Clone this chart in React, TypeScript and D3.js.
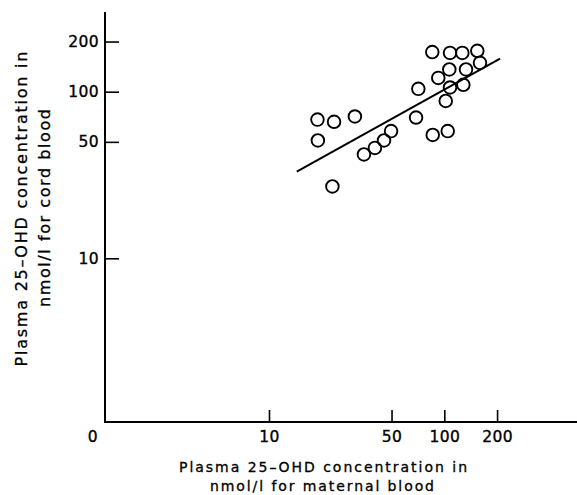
import React, { useEffect, useRef } from "react";
import * as d3 from "d3";

// values (nmol/l)
const maternal = [85.4, 107.8, 126.7, 154.3, 159.8, 106.8, 133.0, 92.4, 107.8, 128.4, 71.1, 101.9, 69.0, 85.9, 104.6, 18.9, 23.5, 30.9, 19.0, 34.8, 40.2, 45.3, 49.7, 23.0];
const cord = [173, 171, 171, 176, 149, 136, 136, 121, 106, 110, 104, 88, 70, 55, 58, 68, 66, 71, 51, 42, 46, 51, 58, 27];

const fitX = [14.4, 208];
const fitY = [33.1, 158];

const xTicks = [10, 50, 100, 200];
const yTicks = [10, 50, 100, 200];
const originLabel = "0";

const xTitle = ["Plasma 25\u2013OHD concentration in", "nmol/l for maternal blood"];
const yTitle = ["Plasma 25\u2013OHD concentration in", "nmol/l for cord blood"];

const W = 577;
const H = 495;
const FONT = "'DejaVu Sans', sans-serif";

const App = () => {
  const ref = useRef<SVGSVGElement | null>(null);

  useEffect(() => {
    const svg = d3.select(ref.current);
    svg.selectAll("*").remove();

    const axisX0 = 104;
    const axisY0 = 422;
    const axisTop = 12;

    const x = d3.scaleLog().domain([10, 100]).range([269, 444.3]);
    const y = d3.scaleLog().domain([10, 100]).range([258.3, 91.7]);

    // axes lines
    svg.append("line")
      .attr("x1", axisX0).attr("x2", W)
      .attr("y1", axisY0).attr("y2", axisY0)
      .attr("stroke", "#000").attr("stroke-width", 2);
    svg.append("line")
      .attr("x1", axisX0 + 1).attr("x2", axisX0 + 1)
      .attr("y1", axisTop).attr("y2", axisY0 + 1)
      .attr("stroke", "#000").attr("stroke-width", 2);

    const xAxis = svg.append("g")
      .attr("transform", `translate(0,${axisY0})`)
      .call(d3.axisBottom(x).tickValues(xTicks).tickFormat(d3.format("d")).tickSize(-12).tickPadding(9));
    xAxis.select(".domain").remove();

    const yAxis = svg.append("g")
      .attr("transform", `translate(${axisX0 + 1},0)`)
      .call(d3.axisLeft(y).tickValues(yTicks).tickFormat(d3.format("d")).tickSize(-14).tickPadding(6));
    yAxis.select(".domain").remove();

    svg.selectAll(".tick line").attr("stroke", "#000").attr("stroke-width", 1.6);
    svg.selectAll(".tick text")
      .attr("fill", "#000")
      .attr("stroke", "#000")
      .attr("stroke-width", 0.35)
      .attr("font-family", FONT)
      .attr("font-size", 15.5)
      .attr("letter-spacing", 0.4);
    xAxis.attr("font-family", FONT);
    yAxis.attr("font-family", FONT);

    svg.append("text")
      .attr("x", 92.7).attr("y", axisY0 + 9).attr("dy", "0.71em")
      .attr("text-anchor", "middle")
      .attr("font-family", FONT).attr("font-size", 15.5)
      .attr("stroke", "#000").attr("stroke-width", 0.35)
      .text(originLabel);

    // regression line
    const line = d3.line<number>()
      .x((_, i) => x(fitX[i]))
      .y((_, i) => y(fitY[i]));
    svg.append("path")
      .attr("d", line(fitX))
      .attr("fill", "none")
      .attr("stroke", "#000")
      .attr("stroke-width", 2);

    // points
    svg.append("g")
      .selectAll("circle")
      .data(maternal)
      .enter()
      .append("circle")
      .attr("cx", (d) => x(d))
      .attr("cy", (_, i) => y(cord[i]))
      .attr("r", 6.3)
      .attr("fill", "none")
      .attr("stroke", "#000")
      .attr("stroke-width", 1.9);

    // titles
    const xt = svg.append("g").attr("font-family", FONT).attr("font-size", 14)
      .attr("fill", "#000").attr("stroke", "#000").attr("stroke-width", 0.3);
    xt.append("text").attr("x", 323).attr("y", 472).attr("text-anchor", "middle")
      .attr("textLength", 288).attr("lengthAdjust", "spacing").text(xTitle[0]);
    xt.append("text").attr("x", 322).attr("y", 491).attr("text-anchor", "middle")
      .attr("textLength", 224).attr("lengthAdjust", "spacing").text(xTitle[1]);

    const yt = svg.append("g").attr("font-family", FONT).attr("font-size", 16)
      .attr("fill", "#000").attr("stroke", "#000").attr("stroke-width", 0.3);
    yt.append("text").attr("transform", "translate(27,209) rotate(-90)").attr("text-anchor", "middle")
      .attr("textLength", 315).attr("lengthAdjust", "spacing").text(yTitle[0]);
    yt.append("text").attr("transform", "translate(50,208) rotate(-90)").attr("text-anchor", "middle")
      .attr("textLength", 198).attr("lengthAdjust", "spacing").text(yTitle[1]);
  }, []);

  return (
    <svg
      ref={ref}
      width={W}
      height={H}
      style={{ position: "absolute", left: 0, top: 0, background: "#fff" }}
    />
  );
};

export default App;
